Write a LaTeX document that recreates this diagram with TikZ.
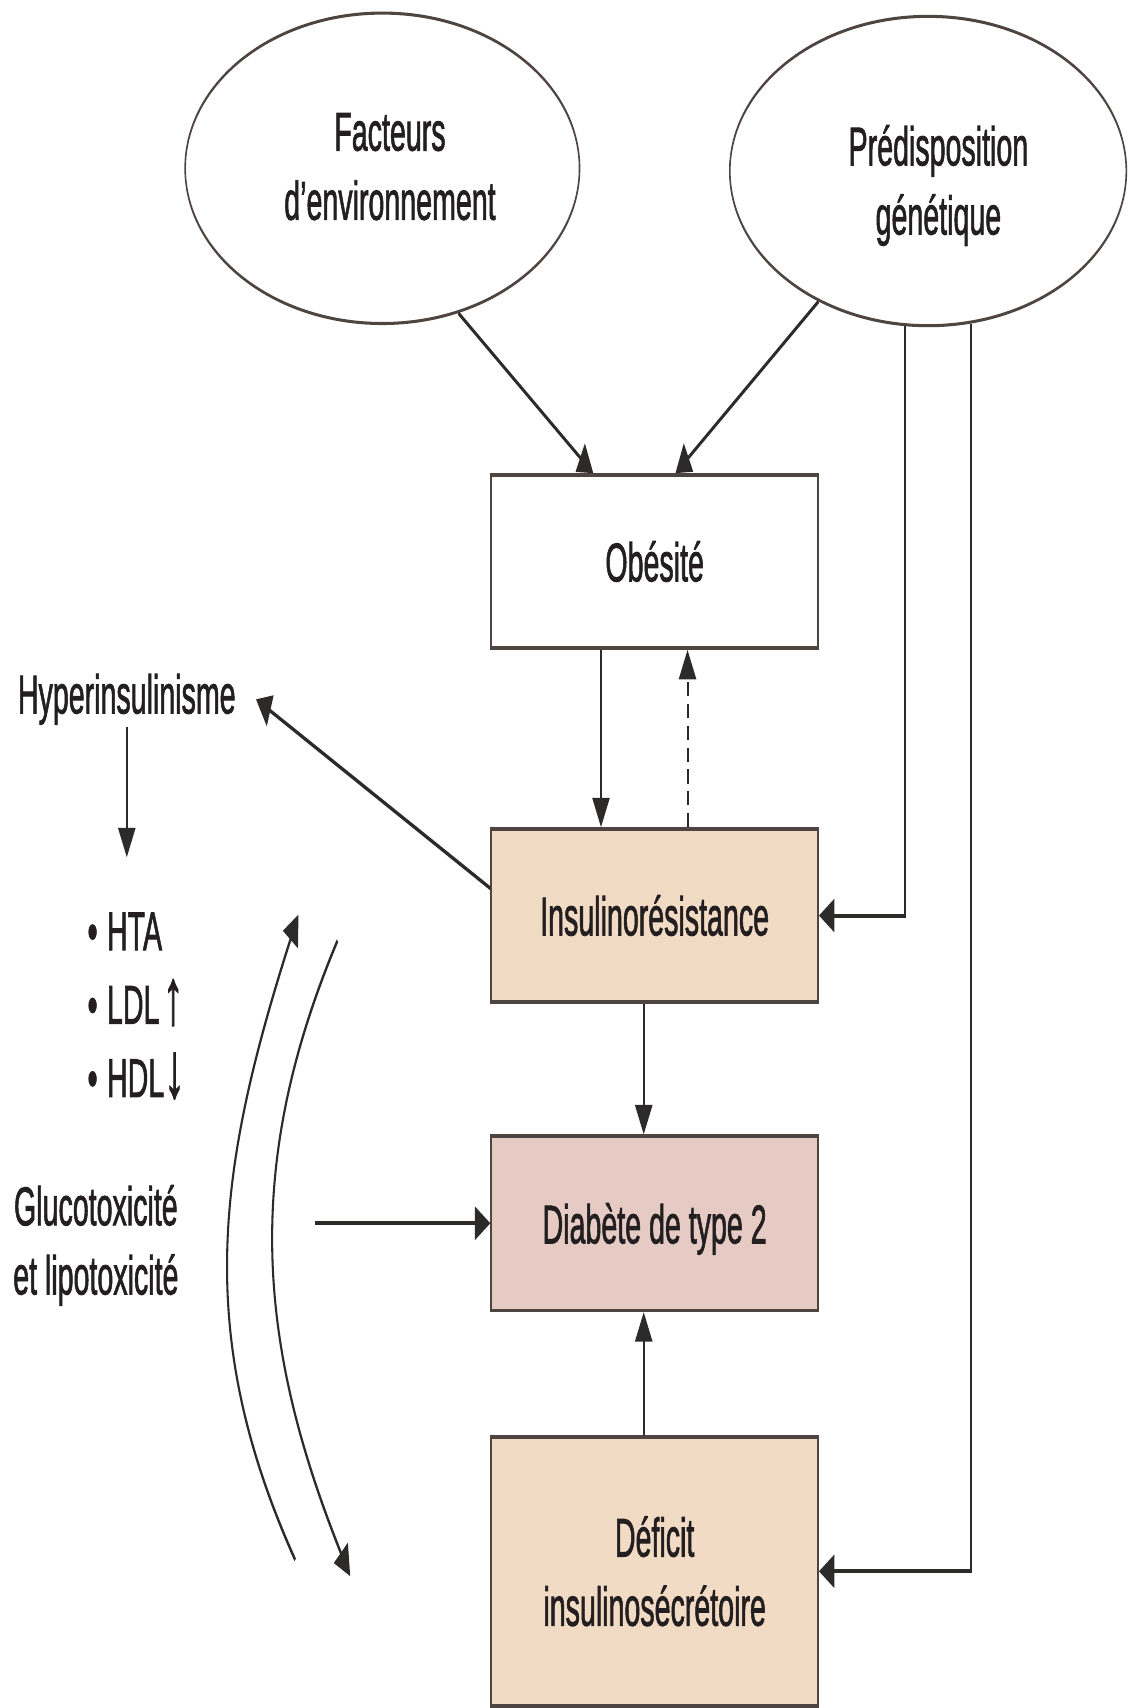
\documentclass[tikz,border=0pt]{standalone}
\usepackage{fontspec}
\setmainfont{Liberation Sans}[RawFeature={embolden=1.8}]
\usetikzlibrary{arrows.meta,calc,shapes.geometric}
\definecolor{peach}{RGB}{242,219,196}
\definecolor{rose}{RGB}{229,203,196}
\definecolor{bord}{RGB}{78,68,64}
\definecolor{ink}{RGB}{35,31,32}
\definecolor{wire}{RGB}{45,42,42}
\newcommand{\bigarrow}[1]{{\fontsize{36pt}{0pt}\selectfont #1}}
\begin{document}
\begin{tikzpicture}[x=0.5pt,y=-0.5pt]
\fill[white] (0,0) rectangle (1036,1568);
\useasboundingbox (0,0) rectangle (1036,1568);
\begin{scope}[x=0.952381pt, transform canvas={xscale=0.525},
  txt/.style={font=\fontsize{25pt}{31.75pt}\selectfont, text=ink, align=center, inner sep=0pt},
  box/.style={draw=bord, line width=1.6pt, minimum width=285.7pt, inner sep=0pt,
    font=\fontsize{25pt}{31.75pt}\selectfont, text=ink, align=center},
  oval/.style={ellipse, draw=bord, line width=1.4pt, inner sep=0pt, fill=white},
  arr/.style={draw=wire, line width=1.8pt, -{Triangle[length=13.5pt,width=15pt]}},
  dashy/.style={dash pattern=on 6.5pt off 3.5pt}]
% ellipses
\node[oval, minimum width=344.8pt, minimum height=142.5pt] (fe) at (351,154.5) {};
\node[oval, minimum width=346.7pt, minimum height=142pt] (pg) at (852,157) {};
\node[txt] (fet) at (358,153) {Facteurs\\d’environnement};
\node[txt] (pgt) at (861.5,170.3) {Prédisposition\\génétique};
% boxes
\node[box, fill=white, minimum height=79.5pt] (ob) at (601,515.5) {Obésité};
\node[box, fill=peach, minimum height=79.5pt] (ir) at (601,840.5) {Insulinorésistance};
\node[box, fill=rose, minimum height=80pt, text depth=0pt] (db) at (601,1123) {Diabète de type 2};
\node[box, fill=peach, minimum height=123.5pt] (df) at (601,1442.5) {Déficit\\insulinosécrétoire};
% side texts
\node[txt, inner xsep=17.6pt, inner ysep=1pt] (hyp) at (116.4,642) {Hyperinsulinisme};
\node[txt, font=\fontsize{25pt}{33.7pt}\selectfont, align=left, anchor=west] (lst) at (80.2,923.5)
  {•\hspace{0.33em}HTA\\•\hspace{0.33em}LDL\hspace{0.12em}\bigarrow{↑}\\•\hspace{0.33em}HDL\bigarrow{↓}};
\node[txt] (glu) at (88,1143.3) {Glucotoxicité\\et lipotoxicité};
% free ends
\coordinate (hypend) at (116.4,787);
\coordinate (gstart) at (289,1123);
\coordinate (a1s) at (271,1432);
\coordinate (a1c1) at (177.4,1224);
\coordinate (a1c2) at (199.6,1072);
\coordinate (a1e) at (274,839.5);
\coordinate (a2s) at (309.8,863.6);
\coordinate (a2c1) at (221.6,1073.6);
\coordinate (a2c2) at (237.5,1237);
\coordinate (a2e) at (321.5,1447);
% connectors
\draw[arr] (fe.-45) -- ($(ob.north west)!0.3133!(ob.north east)$);
\draw[arr] (pg.-148.7) -- ($(ob.north west)!0.5633!(ob.north east)$);
\draw[arr] (pg.-106.55) |- (ir.east);
\draw[arr] (pg.-62.47) |- (df.east);
\draw[arr] ($(ob.south west)!0.3367!(ob.south east)$) -- ($(ir.north west)!0.3367!(ir.north east)$);
\draw[arr, dashy] ($(ir.north west)!0.6!(ir.north east)$) -- ($(ob.south west)!0.6!(ob.south east)$);
\draw[arr] ($(ir.north west)!0.346!(ir.south west)$) -- (hyp.east);
\draw[arr] (hyp.south) -- (hyp.south |- hypend);
\draw[arr] ($(ir.south west)!0.4667!(ir.south east)$) -- ($(db.north west)!0.4667!(db.north east)$);
\draw[arr] ($(df.north west)!0.4667!(df.north east)$) -- ($(db.south west)!0.4667!(db.south east)$);
\draw[arr] (gstart) -- (db.west);
\draw[arr] (a1s) .. controls (a1c1) and (a1c2) .. (a1e);
\draw[arr] (a2s) .. controls (a2c1) and (a2c2) .. (a2e);
\end{scope}
\end{tikzpicture}
\end{document}
